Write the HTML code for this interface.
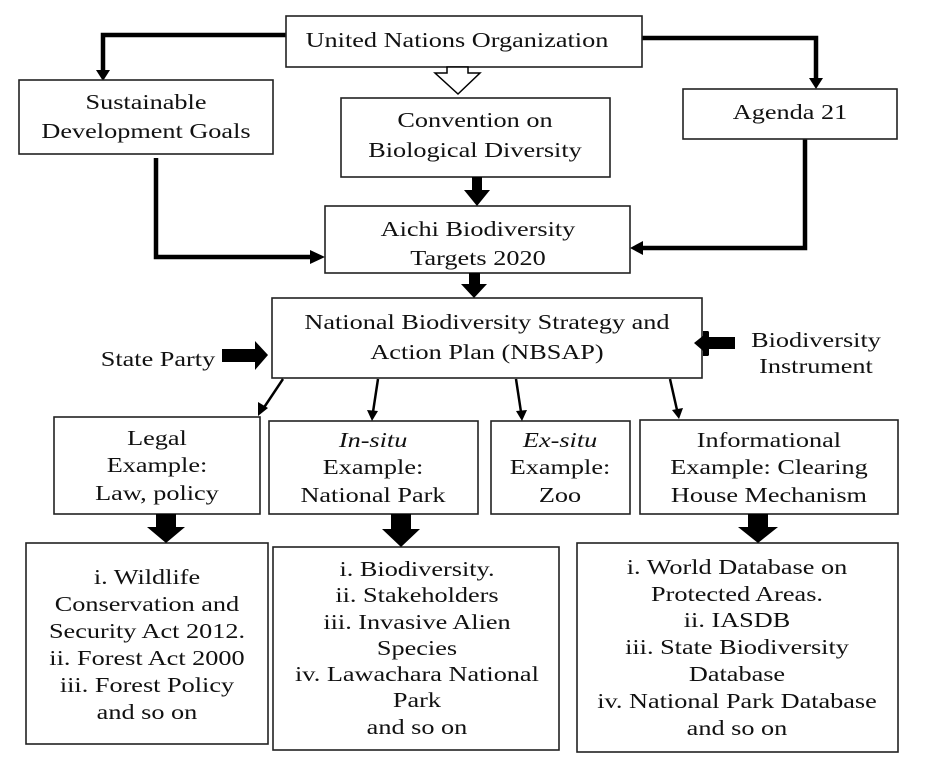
<!DOCTYPE html>
<html><head><meta charset="utf-8"><style>
html,body{margin:0;padding:0;background:#fff;}
svg{display:block}
text{font-family:"Liberation Serif",serif;font-size:21px;fill:#111;text-anchor:middle;transform-box:fill-box;transform-origin:center;transform:scaleX(1.25)}
rect{fill:#fff;stroke:#222;stroke-width:1.6}
.t{stroke:#000;stroke-width:4.5;fill:none}
.n{stroke:#000;stroke-width:2.5;fill:none}
</style></head><body>
<svg width="926" height="769" viewBox="0 0 926 769">
<!-- connectors -->
<polyline class="t" points="286,35 103,35 103,72"/>
<polygon points="96,70 110,70 103,81"/>
<polyline class="t" points="642,38 816,38 816,80"/>
<polygon points="809,78 823,78 816,89"/>
<polyline class="t" points="156,158 156,257 312,257"/>
<polygon points="310,250 310,264 325,257"/>
<polyline class="t" points="805,139 805,248 642,248"/>
<polygon points="643,241 643,255 630,248"/>
<!-- boxes -->
<rect x="286" y="16" width="356" height="51"/>
<rect x="19" y="80" width="254" height="74"/>
<rect x="341" y="98" width="269" height="79"/>
<rect x="683" y="89" width="214" height="50"/>
<rect x="325" y="206" width="305" height="67"/>
<rect x="272" y="298" width="430" height="80"/>
<rect x="54" y="417" width="206" height="97"/>
<rect x="269" y="421" width="209" height="93"/>
<rect x="491" y="421" width="139" height="93"/>
<rect x="640" y="420" width="258" height="94"/>
<rect x="26" y="543" width="242" height="201"/>
<rect x="273" y="547" width="286" height="203"/>
<rect x="577" y="543" width="321" height="209"/>
<!-- hollow arrow -->
<polygon points="447,67 468,67 468,73 480,73 458,94 435,73 447,73" fill="#fff" stroke="#000" stroke-width="1.5"/>
<!-- block arrows -->
<polygon points="472,177 482,177 482,190 490,190 477,206 464,190 472,190"/>
<polygon points="469,273 480,273 480,284 487,284 474,298 461,284 469,284"/>
<polygon points="222,349 255,349 255,341 268,355 255,370 255,362 222,362"/>
<polygon points="735,337 708,337 708,331 703,331 703,356 708,356 708,349 735,349"/>
<polygon points="709,331 694,343 709,356"/>
<polygon points="156,514 176,514 176,527 185,527 166,543 147,527 156,527"/>
<polygon points="391,514 411,514 411,529 420,529 401,547 382,529 391,529"/>
<polygon points="748,514 768,514 768,527 778,527 758,543 738,527 748,527"/>
<!-- thin arrows -->
<line class="n" x1="283" y1="379" x2="263" y2="409"/><polygon points="258,416 258,402 268,408"/>
<line class="n" x1="378" y1="379" x2="373" y2="412"/><polygon points="372,421 367,410 378,411"/>
<line class="n" x1="516" y1="379" x2="521" y2="412"/><polygon points="522,421 516,411 527,410"/>
<line class="n" x1="670" y1="379" x2="677" y2="410"/><polygon points="679,419 672,410 683,408"/>
<!-- text -->
<text x="457" y="47">United Nations Organization</text>
<text x="146" y="109">Sustainable</text>
<text x="146" y="138">Development Goals</text>
<text x="475" y="127">Convention on</text>
<text x="475" y="157">Biological Diversity</text>
<text x="790" y="119">Agenda 21</text>
<text x="478" y="236">Aichi Biodiversity</text>
<text x="478" y="265">Targets 2020</text>
<text x="487" y="329">National Biodiversity Strategy and</text>
<text x="487" y="359">Action Plan (NBSAP)</text>
<text x="158" y="366">State Party</text>
<text x="816" y="347">Biodiversity</text>
<text x="816" y="373">Instrument</text>
<text x="157" y="445">Legal</text>
<text x="157" y="472">Example:</text>
<text x="157" y="500">Law, policy</text>
<text x="373" y="447"><tspan font-style="italic">In-situ</tspan></text>
<text x="373" y="474">Example:</text>
<text x="373" y="502">National Park</text>
<text x="560" y="447"><tspan font-style="italic">Ex-situ</tspan></text>
<text x="560" y="474">Example:</text>
<text x="560" y="502">Zoo</text>
<text x="769" y="447">Informational</text>
<text x="769" y="474">Example: Clearing</text>
<text x="769" y="502">House Mechanism</text>
<text x="147" y="584">i. Wildlife</text>
<text x="147" y="611">Conservation and</text>
<text x="147" y="638">Security  Act 2012.</text>
<text x="147" y="665">ii. Forest Act 2000</text>
<text x="147" y="692">iii. Forest Policy</text>
<text x="147" y="719">and so on</text>
<text x="417" y="576">i. Biodiversity.</text>
<text x="417" y="602">ii. Stakeholders</text>
<text x="417" y="629">iii. Invasive Alien</text>
<text x="417" y="655">Species</text>
<text x="417" y="681">iv. Lawachara National</text>
<text x="417" y="707">Park</text>
<text x="417" y="734">and so on</text>
<text x="737" y="574">i. World Database on</text>
<text x="737" y="601">Protected Areas.</text>
<text x="737" y="627">ii. IASDB</text>
<text x="737" y="654">iii. State Biodiversity</text>
<text x="737" y="681">Database</text>
<text x="737" y="708">iv. National Park Database</text>
<text x="737" y="735">and so on</text>
</svg>
</body></html>
